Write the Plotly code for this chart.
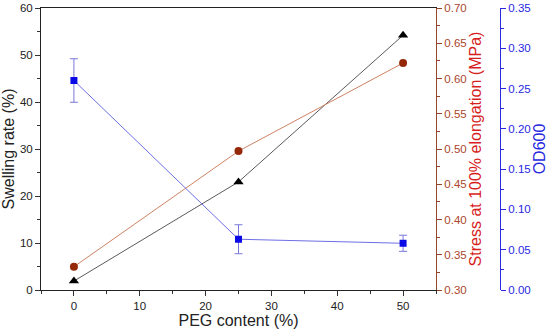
import plotly.graph_objects as go

peg = [0, 25, 50]
swelling = [1.9, 23.0, 54.2]
stress = [0.333, 0.497, 0.622]
od600 = [0.260, 0.063, 0.058]
od600_err = [0.027, 0.018, 0.010]

x_ticks = [0, 10, 20, 30, 40, 50]

RED_LINE = "rgb(150,70,40)"
RED_TICK = "rgb(170,70,45)"
RED_TITLE = "rgb(215,30,30)"
BLUE = "rgb(40,40,225)"
FONT = "Liberation Sans, Arial, sans-serif"
TICK_SIZE = 11.5
TITLE_SIZE = 16

fig = go.Figure()

fig.add_trace(go.Scatter(
    x=peg, y=swelling, mode="lines+markers", yaxis="y",
    line=dict(color="rgb(90,90,90)", width=1),
    marker=dict(symbol="triangle-up", size=9, color="black"),
    showlegend=False))

fig.add_trace(go.Scatter(
    x=peg, y=stress, mode="lines+markers", yaxis="y2",
    line=dict(color="rgb(205,130,100)", width=1),
    marker=dict(symbol="circle", size=8, color="rgb(150,40,10)"),
    showlegend=False))

fig.add_trace(go.Scatter(
    x=peg, y=od600, mode="lines+markers", yaxis="y3",
    line=dict(color="rgb(110,110,230)", width=1),
    marker=dict(symbol="square", size=7, color="rgb(10,10,230)"),
    error_y=dict(type="data", array=od600_err, visible=True,
                 color="rgb(120,120,220)", thickness=1, width=4),
    showlegend=False))

dom_end = 395 / 509

fig.update_layout(
    width=550, height=336,
    margin=dict(l=41, r=0, t=8, b=46),
    paper_bgcolor="white", plot_bgcolor="white",
    font=dict(family=FONT, size=TICK_SIZE, color="#222"),
    xaxis=dict(
        domain=[0, dom_end], range=[-5, 55],
        tickvals=x_ticks, ticks="outside", ticklen=5, tickcolor="#333",
        minor=dict(dtick=5, tick0=0, ticks="outside", ticklen=3, tickcolor="#333"),
        showline=True, linecolor="#222", linewidth=1, mirror=True,
        showgrid=False, zeroline=False,
        tickfont=dict(size=TICK_SIZE, color="#222"),
        title=dict(text="PEG content (%)", font=dict(size=TITLE_SIZE, color="#222"), standoff=4),
    ),
    yaxis=dict(
        range=[0, 60], dtick=10, ticks="outside", ticklen=5, tickcolor="#333",
        minor=dict(dtick=5, ticks="outside", ticklen=3, tickcolor="#333"),
        showline=True, linecolor="#222", linewidth=1,
        showgrid=False, zeroline=False,
        tickfont=dict(size=TICK_SIZE, color="#222"),
        title=dict(text="Swelling rate (%)", font=dict(size=TITLE_SIZE, color="#222"), standoff=4),
    ),
    yaxis2=dict(
        overlaying="y", side="right", anchor="x",
        range=[0.30, 0.70], dtick=0.05, tickformat=".2f",
        ticks="outside", ticklen=5, tickcolor=RED_LINE,
        minor=dict(dtick=0.025, ticks="outside", ticklen=3, tickcolor=RED_LINE),
        showline=True, linecolor=RED_LINE, linewidth=1,
        showgrid=False, zeroline=False,
        tickfont=dict(size=TICK_SIZE, color=RED_TICK),
        title=dict(text="Stress at 100% elongation (MPa)", font=dict(size=TITLE_SIZE, color=RED_TITLE), standoff=4),
    ),
    yaxis3=dict(
        overlaying="y", side="right", anchor="free", position=(500 - 41) / 509,
        range=[0, 0.35], dtick=0.05, tickformat=".2f",
        ticks="outside", ticklen=5, tickcolor=BLUE,
        minor=dict(dtick=0.025, ticks="outside", ticklen=3, tickcolor=BLUE),
        showline=True, linecolor=BLUE, linewidth=1,
        showgrid=False, zeroline=False,
        tickfont=dict(size=TICK_SIZE, color=BLUE),
        title=dict(text="OD600", font=dict(size=TITLE_SIZE, color=BLUE), standoff=3),
    ),
)

fig.write_html("out.html", config={"displayModeBar": False},
               post_script="document.body.style.margin='0';document.body.style.padding='0';")
